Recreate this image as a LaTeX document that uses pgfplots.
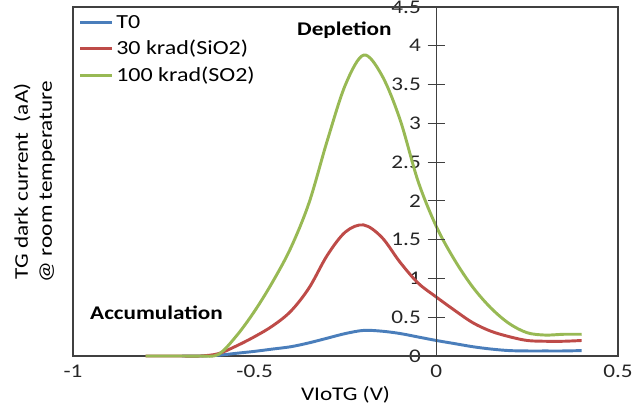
\documentclass[border=0pt]{standalone}
\usepackage{pgfplots}
\pgfplotsset{compat=1.18}
\usepackage{fontspec}
\setmainfont{Carlito}[FakeStretch=1.2]
\definecolor{cBlue}{HTML}{4A7EBB}
\definecolor{cRed}{HTML}{BE4B48}
\definecolor{cGreen}{HTML}{98B954}
\definecolor{cAxis}{HTML}{404040}
\newcommand{\lblfont}{\fontsize{14.5}{17}\selectfont}

\begin{document}
\begin{tikzpicture}
\begin{axis}[
  at={(0,0)}, anchor=south west,
  scale only axis,
  width=408.75pt, height=261.75pt,
  xmin=-1, xmax=0.5, ymin=0, ymax=4.5,
  axis x line=bottom, axis y line=center,
  axis line style={-, cAxis, line width=0.9pt},
  xtick=\empty,
  minor xtick={-0.9,-0.8,-0.7,-0.6,-0.5,-0.4,-0.3,-0.2,-0.1,0,0.1,0.2,0.3,0.4},
  extra x ticks={-1,-0.5,0,0.5},
  extra x tick style={major tick length=0pt, tick style={draw=none}},
  ytick={0,0.5,...,4.5},
  ytick style={draw=none},
  hide obscured y ticks=false,
  hide obscured x ticks=false,
  minor x tick style={cAxis, line width=0.8pt},
  xtick align=inside,
  minor tick length=4pt,
  /pgf/number format/assume math mode=true,
  ticklabel style={font=\lblfont, text=black!85},
  yticklabel style={anchor=east, xshift=-6pt},
  xticklabel style={anchor=north, yshift=-3pt},
  xlabel={VIoTG (V)},
  xlabel style={font=\lblfont, at={(rel axis cs:0.5,0)}, anchor=north, yshift=-19.5pt},
  legend style={draw=none, fill=none, at={(rel axis cs:0.01,0.985)}, anchor=north west,
    font=\fontsize{15}{17}\selectfont, row sep=3.5pt, inner sep=0pt},
  legend cell align=left,
  legend image code/.code={\draw[#1, line width=2.2pt] (0pt,0pt) -- (24pt,0pt);},
  clip=false,
]
% frame around the plot area
\draw[cAxis, line width=0.9pt] (rel axis cs:0,0) rectangle (rel axis cs:1,1);
% ends of the value axis, used for its ticks below
\coordinate (vaxbot) at (axis cs:0,0);
\coordinate (vaxtop) at (axis cs:0,4.5);

\addplot[cBlue, line width=2.2pt, smooth, tension=0.55] coordinates {
  (-0.7,0) (-0.65,0) (-0.6,0.01) (-0.55,0.035) (-0.5,0.06) (-0.45,0.09)
  (-0.4,0.12) (-0.35,0.17) (-0.3,0.23) (-0.25,0.29) (-0.2,0.33)
  (-0.15,0.32) (-0.1,0.29) (-0.05,0.245) (0,0.2) (0.05,0.16) (0.1,0.12)
  (0.15,0.09) (0.2,0.07) (0.25,0.065) (0.3,0.065) (0.35,0.065) (0.4,0.07)
};
\addlegendentry{T0}

\addplot[cRed, line width=2.2pt, smooth, tension=0.55] coordinates {
  (-0.8,0) (-0.75,0) (-0.7,0) (-0.65,0) (-0.6,0.03) (-0.55,0.13)
  (-0.5,0.25) (-0.45,0.39) (-0.4,0.58) (-0.35,0.88) (-0.3,1.3)
  (-0.25,1.6) (-0.2,1.69) (-0.15,1.53) (-0.1,1.21) (-0.05,0.94) (0,0.76)
  (0.05,0.59) (0.1,0.43) (0.15,0.32) (0.2,0.25) (0.25,0.2) (0.3,0.19)
  (0.35,0.19) (0.4,0.2)
};
\addlegendentry{30 krad(SiO2)}

\addplot[cGreen, line width=2.2pt, smooth, tension=0.55] coordinates {
  (-0.8,0) (-0.75,0) (-0.7,0) (-0.65,0) (-0.6,0.02) (-0.55,0.26)
  (-0.5,0.58) (-0.45,0.96) (-0.4,1.4) (-0.35,1.98) (-0.3,2.78)
  (-0.25,3.5) (-0.2,3.88) (-0.15,3.62) (-0.1,3.05) (-0.05,2.25)
  (0,1.67) (0.05,1.24) (0.1,0.89) (0.15,0.62) (0.2,0.42) (0.25,0.3)
  (0.3,0.27) (0.35,0.28) (0.4,0.28)
};
\addlegendentry{100 krad(SO2)}

\node[font=\lblfont\bfseries] at (axis cs:-0.253,4.2) {Depletion};
\node[font=\lblfont\bfseries] at (axis cs:-0.77,0.56) {Accumulation};
\node[font=\lblfont, rotate=90, align=center, anchor=center]
  at ([xshift=-29pt]rel axis cs:0,0.5) {TG dark current~ (aA)\\[1pt] @ room temperature};
\end{axis}

% value axis at V = 0 with ticks crossing it every 0.5 (axis height / 9)
\draw[cAxis, line width=0.9pt] (vaxbot) -- (vaxtop);
\foreach \i in {1,...,8}{
  \draw[cAxis, line width=0.8pt]
    ([xshift=-6.5pt, yshift=\i*29.0833pt]vaxbot) -- ([xshift=6.5pt, yshift=\i*29.0833pt]vaxbot);
}

\pgfresetboundingbox
\path (-54.75pt,-44.25pt) rectangle (420pt,267pt);
\end{tikzpicture}
\end{document}
